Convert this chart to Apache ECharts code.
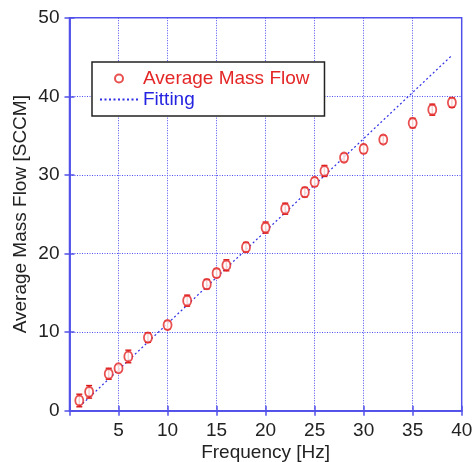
<!DOCTYPE html>
<html>
<head>
<meta charset="utf-8">
<script src="https://cdn.jsdelivr.net/npm/echarts@6/dist/echarts.min.js"></script>
<style>
html,body{margin:0;padding:0;background:#fff;}
#chart{width:473px;height:462px;}
</style>
</head>
<body>
<div id="chart"></div>
<script>
// Data
const frequency = [1, 2, 4, 5, 6, 8, 10, 12, 14, 15, 16, 18, 20, 22, 24, 25, 26, 28, 30, 32, 35, 37, 39];
const massFlow  = [1.3, 2.4, 4.7, 5.4, 6.9, 9.3, 10.9, 14.0, 16.1, 17.5, 18.5, 20.8, 23.3, 25.7, 27.8, 29.1, 30.5, 32.2, 33.3, 34.5, 36.6, 38.3, 39.2];
const flowError = [0.8, 0.8, 0.7, 0.4, 0.8, 0.6, 0.5, 0.7, 0.6, 0.5, 0.7, 0.6, 0.7, 0.7, 0.6, 0.5, 0.7, 0.5, 0.5, 0.5, 0.6, 0.7, 0.6];
const fitFrequency = [1, 39];
const fitFlow = [0.5, 45.2];
const xTicks = [0, 5, 10, 15, 20, 25, 30, 35, 40];
const yTicks = [0, 10, 20, 30, 40, 50];

const BLUE_AXIS = '#5252ea';
const BLUE_GRID = '#4f4ff2';
const RED = '#e42626';
const FONT = '"Liberation Sans", Arial, sans-serif';

const chart = echarts.init(document.getElementById('chart'), null, {renderer: 'canvas'});

const pointData = frequency.map((f, i) => [f, massFlow[i]]);
const errData = frequency.map((f, i) => [f, massFlow[i], flowError[i]]);
const fitData = fitFrequency.map((f, i) => [f, fitFlow[i]]);

const baseAxis = {
  type: 'value',
  axisLine: {show: true, lineStyle: {color: BLUE_AXIS, width: 1.5}},
  axisTick: {show: true, inside: true, length: 5, lineStyle: {color: BLUE_AXIS, width: 1.5}},
};

chart.setOption({
  animation: false,
  backgroundColor: '#fff',
  textStyle: {fontFamily: FONT},
  grid: {
    left: 69.5, right: 11.3, top: 17.7, bottom: 51.3,
    containLabel: false, outerBoundsMode: 'none',
    show: true, borderColor: BLUE_AXIS, borderWidth: 1.5
  },
  legend: {
    orient: 'vertical',
    left: 92, top: 62,
    padding: [6, 15, 6, 7],
    itemGap: 0,
    itemWidth: 38, itemHeight: 8,
    backgroundColor: '#fff',
    borderColor: '#222',
    borderWidth: 1.5,
    borderRadius: 0,
    textStyle: {fontSize: 19, lineHeight: 21, fontFamily: FONT},
    data: [
      {name: 'Average Mass Flow', icon: 'emptyCircle', textStyle: {color: RED}},
      {name: 'Fitting', textStyle: {color: '#2323e0'},
        itemStyle: {color: 'rgba(0,0,0,0)', borderColor: 'rgba(0,0,0,0)', borderWidth: 0}}
    ]
  },
  xAxis: [
    Object.assign({}, baseAxis, {
      min: xTicks[0], max: xTicks[xTicks.length - 1], interval: 5,
      position: 'bottom',
      name: 'Frequency [Hz]', nameLocation: 'middle', nameGap: 33, nameMoveOverlap: false,
      nameTextStyle: {fontSize: 19, color: '#222', fontFamily: FONT},
      axisLabel: {fontSize: 19, color: '#222', margin: 11, fontFamily: FONT,
        formatter: v => (v === 0 ? '' : String(v))},
      splitLine: {show: true, lineStyle: {color: BLUE_GRID, type: [1, 1.5], width: 1}}
    }),
    Object.assign({}, baseAxis, {
      min: xTicks[0], max: xTicks[xTicks.length - 1], interval: 5,
      position: 'top',
      axisLabel: {show: false},
      splitLine: {show: false}
    })
  ],
  yAxis: [
    Object.assign({}, baseAxis, {
      min: yTicks[0], max: yTicks[yTicks.length - 1], interval: 10,
      position: 'left',
      name: 'Average Mass Flow [SCCM]', nameLocation: 'middle', nameGap: 39, nameMoveOverlap: false,
      nameTextStyle: {fontSize: 19, color: '#222', fontFamily: FONT},
      axisLabel: {fontSize: 19, color: '#222', margin: 10, fontFamily: FONT},
      splitLine: {show: true, lineStyle: {color: BLUE_GRID, type: [1, 1.5], width: 1}}
    }),
    Object.assign({}, baseAxis, {
      min: yTicks[0], max: yTicks[yTicks.length - 1], interval: 10,
      position: 'right',
      axisLabel: {show: false},
      splitLine: {show: false}
    })
  ],
  series: [
    {
      name: 'Fitting',
      type: 'line',
      data: fitData,
      symbol: 'none',
      showSymbol: false,
      z: 3,
      lineStyle: {color: '#2f2fe6', width: 1.2, type: [2, 2.5]},
      itemStyle: {color: '#2f2fe6'}
    },
    {
      name: 'errorbars',
      type: 'custom',
      data: errData,
      encode: {x: 0, y: 1},
      z: 4,
      renderItem: function (params, api) {
        const x = api.value(0), y = api.value(1), e = api.value(2);
        const top = api.coord([x, y + e]);
        const bot = api.coord([x, y - e]);
        const w = 3;
        const style = {stroke: '#d81818', lineWidth: 1.4};
        return {
          type: 'group',
          children: [
            {type: 'line', shape: {x1: top[0], y1: top[1], x2: bot[0], y2: bot[1]}, style: style},
            {type: 'line', shape: {x1: top[0] - w, y1: top[1], x2: top[0] + w, y2: top[1]}, style: style},
            {type: 'line', shape: {x1: bot[0] - w, y1: bot[1], x2: bot[0] + w, y2: bot[1]}, style: style}
          ]
        };
      }
    },
    {
      name: 'Average Mass Flow',
      type: 'scatter',
      data: pointData,
      symbol: 'emptyCircle',
      symbolSize: [8, 10],
      z: 5,
      itemStyle: {color: RED, borderColor: RED, borderWidth: 1.2}
    }
  ]
});
</script>
</body>
</html>
